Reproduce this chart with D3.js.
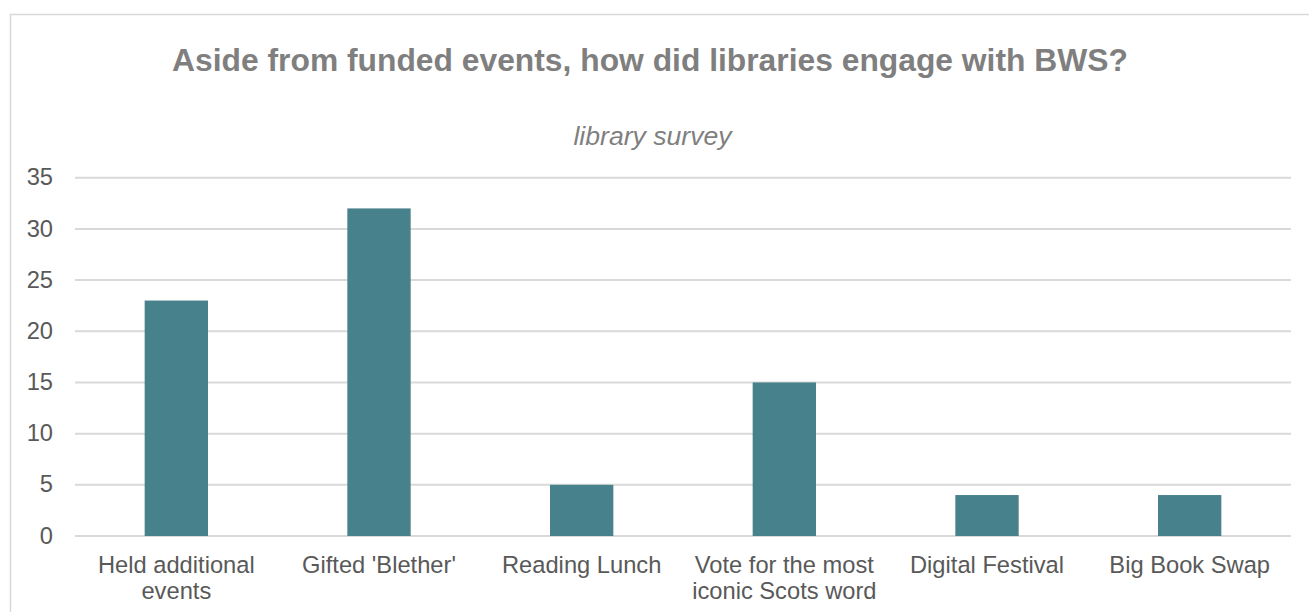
<!DOCTYPE html>
<html>
<head>
<meta charset="utf-8">
<script src="https://cdn.jsdelivr.net/npm/d3@7"></script>
<style>
  html, body { margin: 0; padding: 0; background: #ffffff; }
  svg { display: block; }
  text { font-family: "Liberation Sans", Arial, sans-serif; }
</style>
</head>
<body>
<svg id="chart" width="1309" height="612"></svg>
<script>
// Library engagement with Book Week Scotland, beyond funded events
const categories = [
  "Held additional events",
  "Gifted 'Blether'",
  "Reading Lunch",
  "Vote for the most iconic Scots word",
  "Digital Festival",
  "Big Book Swap"
];
const counts = [23, 32, 5, 15, 4, 4];
const yTicks = [0, 5, 10, 15, 20, 25, 30, 35];
const titleText = "Aside from funded events, how did libraries engage with BWS?";
const subtitleText = "library survey";

const svg = d3.select("#chart");
const W = 1309, H = 612;
const plot = { left: 75, right: 1291, top: 177.7, bottom: 536 };

// Outer chart frame
svg.append("rect")
  .attr("x", 10.5).attr("y", 14.5)
  .attr("width", W).attr("height", H)
  .attr("fill", "#ffffff")
  .attr("stroke", "#d9d9d9")
  .attr("stroke-width", 1.5);

// Title and subtitle
svg.append("text")
  .attr("x", 650).attr("y", 71)
  .attr("text-anchor", "middle")
  .attr("font-size", 31.8)
  .attr("font-weight", "bold")
  .attr("fill", "#7f7f7f")
  .text(titleText);

svg.append("text")
  .attr("x", 652.5).attr("y", 145)
  .attr("text-anchor", "middle")
  .attr("font-size", 26.6)
  .attr("font-style", "italic")
  .attr("fill", "#7f7f7f")
  .text(subtitleText);

const x = d3.scaleBand()
  .domain(categories)
  .range([plot.left, plot.right])
  .padding(0);

const y = d3.scaleLinear()
  .domain([0, 35])
  .range([plot.bottom, plot.top]);

// Horizontal gridlines
svg.append("g")
  .selectAll("line")
  .data(yTicks)
  .join("line")
  .attr("x1", plot.left).attr("x2", plot.right)
  .attr("y1", d => y(d)).attr("y2", d => y(d))
  .attr("stroke", "#d9d9d9")
  .attr("stroke-width", 2);

// Y axis labels
const yAxis = d3.axisLeft(y).tickValues(yTicks).tickSize(0).tickPadding(0);
const gy = svg.append("g")
  .attr("transform", `translate(${plot.left - 22},0)`)
  .call(yAxis);
gy.select(".domain").remove();
gy.selectAll("text")
  .attr("font-family", "'Liberation Sans', Arial, sans-serif")
  .attr("font-size", 23.7)
  .attr("fill", "#595959")
  .attr("dy", "0.3em");

// Bars
const barRatio = 0.3125;
const barW = x.bandwidth() * barRatio;
svg.append("g")
  .selectAll("rect")
  .data(categories)
  .join("rect")
  .attr("x", d => x(d) + (x.bandwidth() - barW) / 2)
  .attr("width", barW)
  .attr("y", (d, i) => y(counts[i]))
  .attr("height", (d, i) => y(0) - y(counts[i]))
  .attr("fill", "#47818b");

// Category labels, wrapped to the band width
const xAxis = d3.axisBottom(x).tickSize(0).tickPadding(0);
const gx = svg.append("g")
  .attr("transform", `translate(0,${plot.bottom})`)
  .call(xAxis);
gx.select(".domain").remove();
gx.selectAll("text")
  .attr("font-family", "'Liberation Sans', Arial, sans-serif")
  .attr("font-size", 23.7)
  .attr("fill", "#595959")
  .attr("dy", null)
  .attr("y", 0)
  .each(function(d) {
    const t = d3.select(this);
    const words = d.split(" ");
    const maxW = x.bandwidth() - 8;
    t.text(null);
    let line = [];
    let lineNo = 0;
    let tspan = t.append("tspan").attr("x", 0).attr("y", 36.5);
    for (const w of words) {
      line.push(w);
      tspan.text(line.join(" "));
      if (tspan.node().getComputedTextLength() > maxW && line.length > 1) {
        line.pop();
        tspan.text(line.join(" "));
        line = [w];
        lineNo += 1;
        tspan = t.append("tspan").attr("x", 0).attr("y", 36.5 + lineNo * 26.5).text(w);
      }
    }
  });
</script>
</body>
</html>
